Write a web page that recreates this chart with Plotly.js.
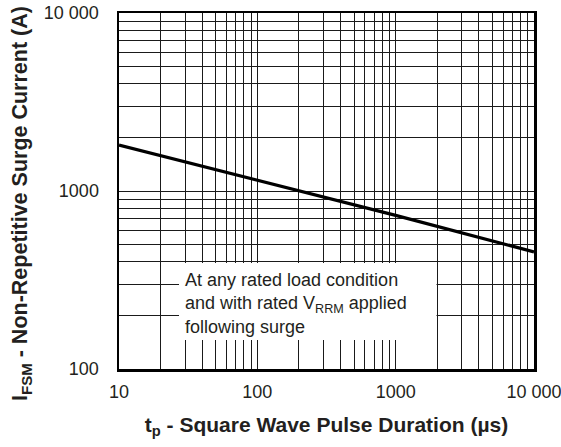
<!DOCTYPE html>
<html>
<head>
<meta charset="utf-8">
<script src="https://cdn.plot.ly/plotly-3.0.1.min.js"></script>
<style>html,body{margin:0;padding:0;background:#fff;}#chart{width:561px;height:447px;}</style>
</head>
<body>
<div id="chart"></div>
<script>
// Data
var pulseDuration = [10, 100, 1000, 10000];          // t_p (µs)
var surgeCurrent  = [1810, 1150, 730, 455];           // I_FSM (A)

// Tick / gridline values
var xTickVals = [10,20,30,40,50,60,70,80,90,100,200,300,400,500,600,700,800,900,1000,2000,3000,4000,5000,6000,7000,8000,9000,10000];
var xTickText = ['10','','','','','','','','','100','','','','','','','','','1000','','','','','','','','','10 000'];
var yTickVals = [100,200,300,400,500,600,700,800,900,1000,2000,3000,4000,5000,6000,7000,8000,9000,10000];
var yTickText = ['100','','','','','','','','','1000','','','','','','','','','10 000'];

var xTitle = '<b>t<sub>p</sub> - Square Wave Pulse Duration (µs)</b>';
var yTitle = '<b>I<sub>FSM</sub> - Non-Repetitive Surge Current (A)</b>';
var noteText = 'At any rated load condition<br>and with rated V<sub>RRM</sub> applied<br>following surge';

var textColor = '#231f20';
var fontFam = 'Liberation Sans, Arial, Helvetica, sans-serif';

var trace = {
  x: pulseDuration, y: surgeCurrent, type: 'scatter', mode: 'lines',
  line: {color: '#000', width: 3.2}, hoverinfo: 'skip'
};

var layout = {
  width: 561, height: 447,
  margin: {l: 119, r: 27, t: 13, b: 78},
  paper_bgcolor: '#fff', plot_bgcolor: '#fff',
  showlegend: false,
  font: {family: fontFam, size: 18, color: textColor},
  xaxis: {
    type: 'log', range: [1, 4],
    tickmode: 'array', tickvals: xTickVals, ticktext: xTickText,
    showgrid: true, gridcolor: '#1a1a1a', gridwidth: 1,
    ticks: '', showline: true, linecolor: '#000', linewidth: 2.5, mirror: true,
    zeroline: false, tickfont: {size: 18, color: textColor}, ticklabelstandoff: 5,
    ticklabeloverflow: 'allow',
    title: {text: xTitle, font: {size: 21, color: textColor}, standoff: 16}
  },
  yaxis: {
    type: 'log', range: [2, 4],
    tickmode: 'array', tickvals: yTickVals, ticktext: yTickText,
    showgrid: true, gridcolor: '#1a1a1a', gridwidth: 1,
    ticks: '', showline: true, linecolor: '#000', linewidth: 2.5, mirror: true,
    zeroline: false, tickfont: {size: 18, color: textColor}, ticklabelstandoff: 14,
    ticklabeloverflow: 'allow'
  },
  shapes: [{
    type: 'rect', xref: 'paper', yref: 'paper', layer: 'above',
    x0: (179-119)/415, x1: (436.5-119)/415, y0: (369-340)/356, y1: (369-263)/356,
    fillcolor: '#fff', line: {width: 0}
  }],
  annotations: [{
    xref: 'paper', yref: 'paper', x: (183-119)/415, y: (369-268)/356,
    xanchor: 'left', yanchor: 'top', align: 'left', showarrow: false,
    text: noteText, font: {size: 18, color: textColor, family: fontFam}
  }, {
    xref: 'paper', yref: 'paper', x: (22-119)/415, y: (369-204)/356,
    xanchor: 'center', yanchor: 'middle', textangle: -90, showarrow: false,
    text: yTitle, font: {size: 21.5, color: textColor, family: fontFam}
  }]
};

Plotly.newPlot('chart', [trace], layout, {displayModeBar: false, staticPlot: true});
</script>
</body>
</html>
